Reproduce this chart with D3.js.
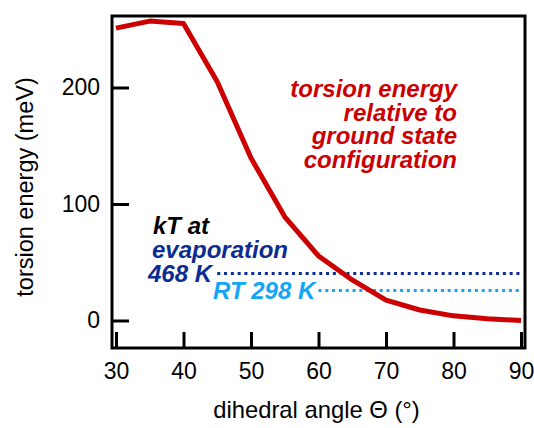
<!DOCTYPE html>
<html>
<head>
<meta charset="utf-8">
<script src="https://cdn.jsdelivr.net/npm/d3@7"></script>
<style>
  html, body { margin: 0; padding: 0; background: #fff; }
  svg { display: block; font-family: "Liberation Sans", Arial, Helvetica, sans-serif; }
</style>
</head>
<body>
<svg id="chart" width="534" height="428"></svg>
<script>
// ---- data ----
const angles = [30, 35, 40, 45, 50, 55, 60, 65, 70, 75, 80, 85, 90];
const energies = [251, 257, 255, 205, 139.5, 89, 55.4, 34.8, 17.5, 9, 4, 1.5, 0];
const xTicks = [30, 40, 50, 60, 70, 80, 90];
const yTicks = [0, 100, 200];
const kTLevels = [
  { name: "evaporation", value: 40.3, from: 45, to: 90 },
  { name: "RT", value: 25.7, from: 60, to: 90 }
];
const curveLabel = ["torsion energy", "relative to", "ground state", "configuration"];

// ---- layout ----
const svg = d3.select("#chart");
const x = d3.scaleLinear().domain([30, 90]).range([116, 521]);
const y = d3.scaleLinear().domain([0, 200]).range([320.5, 87.5]);
const frame = { left: 112, right: 525, top: 16, bottom: 348 };
const fs = 23;
const afs = 24;

// axes (ticks inside)
const yAxis = svg.append("g")
  .attr("transform", `translate(${frame.left},0)`)
  .call(d3.axisLeft(y).tickValues(yTicks).tickSize(-17).tickPadding(12).tickFormat(d3.format("d")));
const xAxis = svg.append("g")
  .attr("transform", `translate(0,${frame.bottom})`)
  .call(d3.axisBottom(x).tickValues(xTicks).tickSize(-16).tickPadding(15).tickFormat(d3.format("d")));
[yAxis, xAxis].forEach(g => {
  g.select(".domain").remove();
  g.selectAll(".tick line").attr("stroke", "#000").attr("stroke-width", 3);
  g.selectAll(".tick text").attr("fill", "#000").attr("font-size", fs)
    .attr("font-family", "'Liberation Sans', Arial, sans-serif");
});

// frame
svg.append("rect")
  .attr("x", frame.left).attr("y", frame.top)
  .attr("width", frame.right - frame.left).attr("height", frame.bottom - frame.top)
  .attr("fill", "none").attr("stroke", "#000").attr("stroke-width", 3);

// kT dotted lines
const kTColors = ["#0b2c93", "#12a6f7"];
svg.selectAll(".kt").data(kTLevels).join("line")
  .attr("class", "kt")
  .attr("x1", d => x(d.from)).attr("x2", d => x(d.to))
  .attr("y1", d => y(d.value)).attr("y2", d => y(d.value))
  .attr("stroke", (d, i) => kTColors[i])
  .attr("stroke-width", 3)
  .attr("stroke-dasharray", "3,3.8");

// curve
const line = d3.line().x((d, i) => x(angles[i])).y(d => y(d));
svg.append("path")
  .datum(energies)
  .attr("d", line)
  .attr("fill", "none")
  .attr("stroke", "#cc0000")
  .attr("stroke-width", 5)
  .attr("stroke-linejoin", "round");

// annotations
const ann = svg.append("g")
  .attr("font-weight", "bold").attr("font-style", "italic").attr("font-size", afs);
ann.selectAll(".cl").data(curveLabel).join("text")
  .attr("class", "cl")
  .attr("x", 457).attr("y", (d, i) => 97 + i * 23.5)
  .attr("text-anchor", "end").attr("fill", "#cc0000")
  .text(d => d);

ann.append("text").attr("x", 153).attr("y", 234).attr("fill", "#000").text("kT at");
ann.append("text").attr("x", 152).attr("y", 258).attr("fill", kTColors[0]).text("evaporation");
ann.append("text").attr("x", 148).attr("y", y(kTLevels[0].value) + 8).attr("fill", kTColors[0]).text("468 K");
ann.append("text").attr("x", 213).attr("y", y(kTLevels[1].value) + 8).attr("fill", kTColors[1]).text("RT 298 K");

// axis titles
svg.append("text")
  .attr("x", (frame.left + frame.right) / 2 - 2).attr("y", 418)
  .attr("text-anchor", "middle").attr("font-size", 23.8).attr("fill", "#000")
  .text("dihedral angle Θ (°)");
svg.append("text")
  .attr("transform", "translate(33,187) rotate(-90)")
  .attr("text-anchor", "middle").attr("font-size", 23.5).attr("fill", "#000")
  .text("torsion energy (meV)");
</script>
</body>
</html>
